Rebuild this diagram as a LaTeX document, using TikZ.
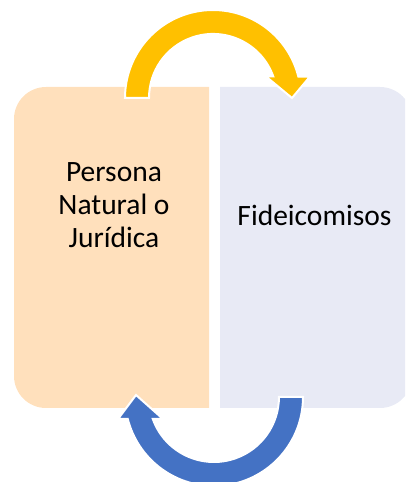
\documentclass[tikz,border=0pt]{standalone}
\usepackage{fontspec}
\setmainfont{Carlito}
\definecolor{durazno}{RGB}{255,224,188}
\definecolor{lavanda}{RGB}{232,234,245}
\definecolor{amarillo}{RGB}{255,192,0}
\definecolor{azul}{RGB}{68,114,196}
\begin{document}
\begin{tikzpicture}[x=1pt, y=1pt]
        \tikzstyle{caja} = [rectangle, inner sep=0, outer sep=0, minimum width=195pt, minimum height=321pt]
        \tikzstyle{texto} = [align=center, font=\fontsize{29.5pt}{33pt}\selectfont]
        \tikzstyle{flecha} = [draw=white, line width=2pt]

        \useasboundingbox (0, 0) rectangle (405, 482);
        \clip (0, 0) rectangle (405, 482);

        \node[caja] (persona) at (111.5, 234.5) {};
        \node[caja, minimum width=192pt] (fideicomiso) at (316, 234.5) {};
        \coordinate (arriba) at (213, 384);
        \coordinate (abajo) at (214, 85);

        \fill[durazno] (persona.north east) -- ([xshift=32pt]persona.north west)
            arc[start angle=90, end angle=180, radius=32pt] -- ([yshift=32pt]persona.south west)
            arc[start angle=180, end angle=270, radius=32pt] -- (persona.south east) -- cycle;
        \fill[lavanda] (fideicomiso.north west) -- ([xshift=-32pt]fideicomiso.north east)
            arc[start angle=90, end angle=0, radius=32pt] -- ([yshift=32pt]fideicomiso.south east)
            arc[start angle=0, end angle=-90, radius=32pt] -- (fideicomiso.south west) -- cycle;

        \node[texto] (persona texto) at (114, 277) {Persona\\Natural o\\Jurídica};
        \node[texto, anchor=base] (fideicomiso texto) at (314.5, 256) {Fideicomisos};

        \filldraw[flecha, fill=amarillo] ([xshift=-88pt]arriba)
            arc[start angle=180, end angle=14.1, radius=88pt]
            -- ([shift={(97,21.5)}]arriba) -- ([shift={(79,0)}]arriba)
            -- ([shift={(53,21.5)}]arriba) -- ([shift={(60.3,21.5)}]arriba)
            arc[start angle=19.6, end angle=180, radius=64pt] -- cycle;
        \filldraw[flecha, fill=azul] ([xshift=89pt]abajo)
            arc[start angle=0, end angle=-165.7, radius=89pt]
            -- ([shift={(-96,-22)}]abajo) -- ([shift={(-78,2)}]abajo)
            -- ([shift={(-51,-22)}]abajo) -- ([shift={(-61.2,-22)}]abajo)
            arc[start angle=-160.2, end angle=0, radius=65pt] -- cycle;
    \end{tikzpicture}
\end{document}
